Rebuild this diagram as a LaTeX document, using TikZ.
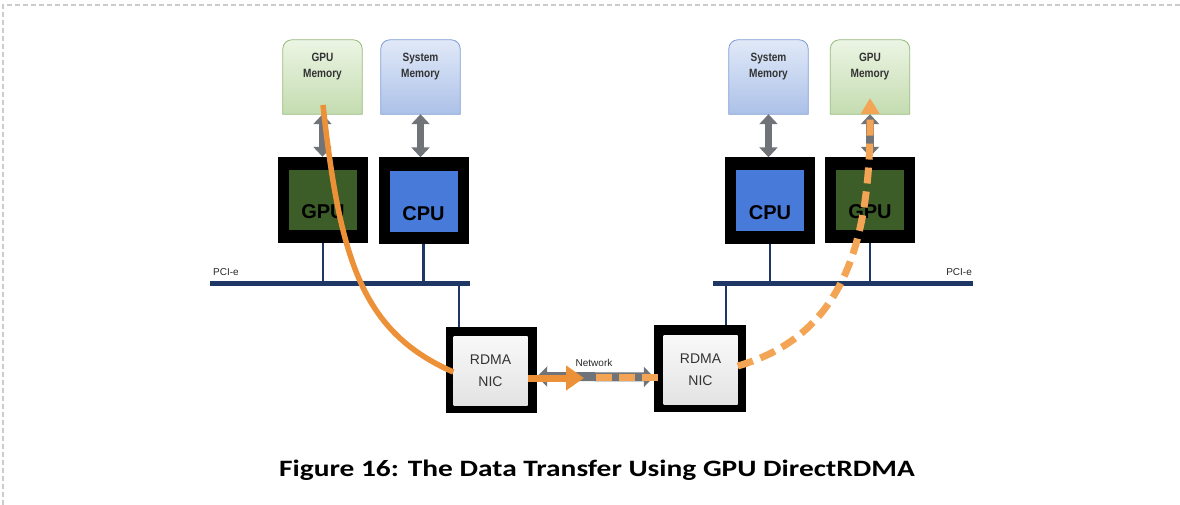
\documentclass[tikz,border=0pt]{standalone}
\usepackage{fontspec}
\setmainfont{Liberation Sans}
\newfontfamily\capfont[FakeStretch=1.25]{Carlito}
\newfontfamily\narrowfont[FakeStretch=0.84]{Liberation Sans Bold}
\usetikzlibrary{arrows.meta,calc}
\definecolor{gpugreen}{RGB}{60,92,40}
\definecolor{cpublue}{RGB}{72,122,218}
\definecolor{busnavy}{RGB}{30,55,100}
\definecolor{orsolid}{RGB}{236,145,55}
\definecolor{ordash}{RGB}{243,165,85}
\definecolor{arrgray}{RGB}{112,116,121}
\definecolor{memgreenT}{RGB}{236,245,228}
\definecolor{memgreenB}{RGB}{196,220,176}
\definecolor{memgreenD}{RGB}{150,186,122}
\definecolor{memblueT}{RGB}{225,233,248}
\definecolor{memblueB}{RGB}{172,193,232}
\definecolor{memblueD}{RGB}{125,157,212}
\tikzset{
  frame/.style={fill=black, minimum width=90pt, minimum height=86pt, inner sep=0pt},
  gpuin/.style={fill=gpugreen, minimum width=68pt, minimum height=60pt, inner sep=0pt},
  cpuin/.style={fill=cpublue, minimum width=68pt, minimum height=60pt, inner sep=0pt},
  nicin/.style={top color=white!95!gray, bottom color=white!78!gray, minimum width=74pt, minimum height=69pt, inner sep=0pt},
  chiptext/.style={font=\bfseries\fontsize{20}{22}\selectfont, text=black, inner sep=0pt},
  nictext/.style={font=\fontsize{14}{22}\selectfont, text=black!80, align=center, inner sep=0pt},
  memnode/.style={minimum width=79pt, minimum height=74pt, inner sep=0pt},
  memtext/.style={font=\narrowfont\fontsize{12}{16}\selectfont, text=black!80, align=center, inner sep=0pt},
  memgreen/.style={draw=memgreenD, line width=0.8pt, top color=memgreenT, bottom color=memgreenB},
  memblue/.style={draw=memblueD, line width=0.8pt, top color=memblueT, bottom color=memblueB},
  bus/.style={draw=busnavy, line width=5pt},
  stub/.style={draw=busnavy, line width=2.6pt},
  memarrow/.style={draw=arrgray, line width=7.5pt, {Triangle[length=10pt,width=18pt]}-{Triangle[length=10pt,width=18pt]}},
  netarrow/.style={draw=arrgray, line width=9pt, {Triangle[length=10pt,width=20pt]}-{Triangle[length=10pt,width=20pt]}},
  orpath/.style={draw=orsolid, line width=5.5pt},
  orarrow/.style={draw=orsolid, line width=7pt, -{Triangle[length=18pt,width=24pt]}},
  ordashed/.style={draw=ordash, line width=7pt, dash pattern=on 16pt off 7pt},
  ordasharrow/.style={draw=ordash, line width=7pt, dash pattern=on 16pt off 8pt, -{Triangle[length=16pt,width=18pt]}},
  smalltext/.style={font=\fontsize{10}{12}\selectfont, text=black!85, inner sep=0pt},
  captext/.style={font=\capfont\bfseries\fontsize{23.5}{26}\selectfont, text=black, inner sep=0pt},
  border/.style={draw=black!20, line width=1.2pt, dash pattern=on 5pt off 3pt}
}
\begin{document}
\begin{tikzpicture}[x=1pt,y=-1pt]
\useasboundingbox (0,0) rectangle (1180,505);
% page border
\draw[border] (3,505) -- (3,5) -- (1180,5);

% memory boxes
\node[memnode] (lgm) at (322.5,77) {};
\node[memnode] (lsm) at (420.5,77) {};
\node[memnode] (rsm) at (768.5,77) {};
\node[memnode] (rgm) at (870,77) {};
\path[memgreen] (lgm.south west) [rounded corners=9pt] -- (lgm.north west) -- (lgm.north east) [sharp corners] -- (lgm.south east) -- cycle;
\path[memblue] (lsm.south west) [rounded corners=9pt] -- (lsm.north west) -- (lsm.north east) [sharp corners] -- (lsm.south east) -- cycle;
\path[memblue] (rsm.south west) [rounded corners=9pt] -- (rsm.north west) -- (rsm.north east) [sharp corners] -- (rsm.south east) -- cycle;
\path[memgreen] (rgm.south west) [rounded corners=9pt] -- (rgm.north west) -- (rgm.north east) [sharp corners] -- (rgm.south east) -- cycle;
\node[memtext] (lgmt) at (322.5,67) {GPU\\Memory};
\node[memtext] (lsmt) at (420.5,67) {System\\Memory};
\node[memtext] (rsmt) at (768.5,67) {System\\Memory};
\node[memtext] (rgmt) at (870,67) {GPU\\Memory};

% chips
\node[frame] (lgpu) at (323,200) {};
\node[gpuin] (lgpuin) at (lgpu) {};
\node[chiptext] (lgput) at ($(lgpuin)+(0,12)$) {GPU};
\node[frame] (lcpu) at (423.5,200.5) {};
\node[cpuin] (lcpuin) at ($(lcpu)+(0,1)$) {};
\node[chiptext] (lcput) at ($(lcpuin)+(0,12)$) {CPU};
\node[frame] (rcpu) at (770,200.5) {};
\node[cpuin] (rcpuin) at ($(rcpu)+(0,0)$) {};
\node[chiptext] (rcput) at ($(rcpuin)+(0,12)$) {CPU};
\node[frame] (rgpu) at (870,200) {};
\node[gpuin] (rgpuin) at (rgpu) {};
\node[chiptext] (rgput) at ($(rgpuin)+(0,12)$) {GPU};

% memory arrows
\draw[memarrow] (lgm.south) -- (lgm.south |- lgpu.north);
\draw[memarrow] (lsm.south) -- (lsm.south |- lcpu.north);
\draw[memarrow] (rsm.south) -- (rsm.south |- rcpu.north);
\draw[memarrow] (rgm.south) -- (rgm.south |- rgpu.north);

% PCI-e buses
\coordinate (lbusw) at (210,283);
\coordinate (lbuse) at (470,283);
\coordinate (rbusw) at (713,283);
\coordinate (rbuse) at (973,283);
\draw[bus] (lbusw) -- (lbuse);
\draw[bus] (rbusw) -- (rbuse);
\node[smalltext, anchor=south west] (lpci) at (213,276) {PCI-e};
\node[smalltext, anchor=south east] (rpci) at (972,276) {PCI-e};
\draw[stub] (lgpu.south) -- (lgpu.south |- lbusw);
\draw[stub] (lcpu.south) -- (lcpu.south |- lbusw);
\draw[stub] (rcpu.south) -- (rcpu.south |- rbusw);
\draw[stub] (rgpu.south) -- (rgpu.south |- rbusw);

% NICs
\node[frame, minimum width=91pt, minimum height=86pt] (lnic) at (491.5,369.5) {};
\node[nicin] (lnicin) at (490.5,370.5) {};
\node[nictext] (lnict) at (lnicin) {RDMA\\NIC};
\node[frame, minimum width=92pt, minimum height=87pt] (rnic) at (700,368.5) {};
\node[nicin] (rnicin) at (700.5,370) {};
\node[nictext] (rnict) at (rnicin) {RDMA\\NIC};
\draw[stub] (459,283) -- (459,327);
\draw[stub] (726,283) -- (726,325);

% network
\draw[netarrow] ($(lnic.east)+(0,7)$) -- ($(rnic.west)+(0,8.5)$);
\node[smalltext] (net) at (594,363) {Network};

% orange data path
\coordinate (ostart) at (323,105);
\draw[orpath] (ostart) .. controls (340,260) and (362,332) .. ($(lnicin.west)+(0,1.5)$);
\draw[orarrow] ($(lnicin.east)+(0,7.5)$) -- (584,378);
\coordinate (odash) at (596,377);
\draw[ordashed] (odash) -- ($(rnicin.west)+(0,7)$);
\coordinate (oend) at (870,98);
\draw[ordasharrow] ($(rnicin.east)+(0,-4)$) .. controls (845,335) and (871,240) .. (oend);

% caption
\node[captext] (cap) at (597,470) {Figure 16: The Data Transfer Using GPU DirectRDMA};
\end{tikzpicture}
\end{document}
